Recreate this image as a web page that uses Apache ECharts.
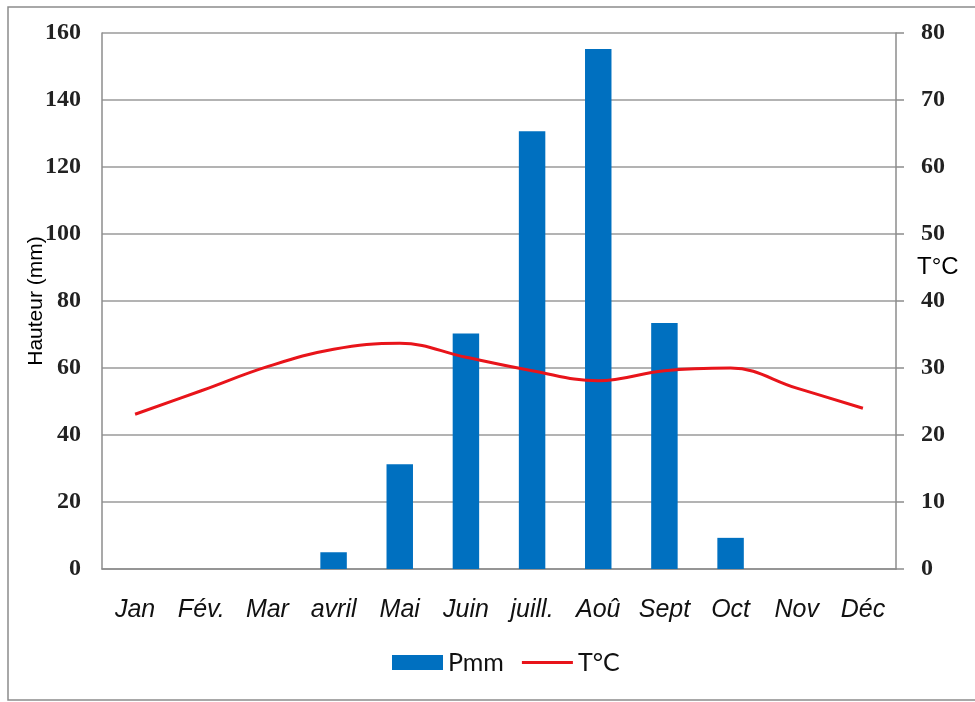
<!DOCTYPE html>
<html><head><meta charset="utf-8">
<script src="https://cdn.jsdelivr.net/npm/echarts@6/dist/echarts.min.js"></script>
<style>html,body{margin:0;padding:0;background:#fff}#c{width:975px;height:702px}</style>
</head><body><div id="c"></div>
<script>
const months = ['Jan','Fév.','Mar','avril','Mai','Juin','juill.','Aoû','Sept','Oct','Nov','Déc'];
const pmm = [0,0,0,5,31.3,70.3,130.7,155.2,73.4,9.3,0,0];
const tC = [23.1,26.6,30.2,32.8,33.7,31.6,29.6,28.1,29.6,30.0,27.0,24.0];
const leftTicks = {min:0,max:160,interval:20};
const rightTicks = {min:0,max:80,interval:10};

const chart = echarts.init(document.getElementById('c'));
chart.setOption({
  animation:false,
  graphic:[
    {type:'rect',shape:{x:8,y:7,width:975,height:693},style:{fill:'none',stroke:'#8c8c8c',lineWidth:1.5}},
    {type:'text',left:917,top:255,style:{text:'T°C',font:'24px "Liberation Sans"',fill:'#000'}}
  ],
  grid:{left:102,right:79,top:33,bottom:133},
  legend:{top:645,left:387,itemWidth:51,itemHeight:15,itemGap:18,
    textStyle:{fontFamily:'Lato',fontSize:25,color:'#111'},
    data:[{name:'Pmm',icon:'rect'},{name:'T°C',icon:'path://M0,0H50V3H0Z'}]},
  xAxis:{type:'category',data:months,
    axisLine:{lineStyle:{color:'#8c8c8c',width:1.5}},axisTick:{show:false},
    axisLabel:{interval:0,fontFamily:'Liberation Sans',fontStyle:'italic',fontSize:25,color:'#111',margin:29}},
  yAxis:[
    {type:'value',min:leftTicks.min,max:leftTicks.max,interval:leftTicks.interval,
     name:'Hauteur (mm)',nameLocation:'middle',nameGap:55,nameRotate:90,nameMoveOverlap:false,
     nameTextStyle:{fontFamily:'Liberation Sans',fontSize:21,color:'#000'},
     axisLine:{show:true,lineStyle:{color:'#8c8c8c',width:1.5}},axisTick:{show:false},
     splitLine:{lineStyle:{color:'#9a9a9a',width:1.5}},
     axisLabel:{fontFamily:'Liberation Serif',fontWeight:'bold',fontSize:24,color:'#222',margin:21}},
    {type:'value',min:rightTicks.min,max:rightTicks.max,interval:rightTicks.interval,
     axisLine:{show:true,lineStyle:{color:'#8c8c8c',width:1.5}},
     axisTick:{show:true,inside:false,length:8,lineStyle:{color:'#8c8c8c',width:1.5}},
     splitLine:{show:false},
     axisLabel:{fontFamily:'Liberation Serif',fontWeight:'bold',fontSize:24,color:'#222',margin:25}}
  ],
  series:[
    {name:'Pmm',type:'bar',data:pmm,barWidth:'40%',itemStyle:{color:'#0070c0'}},
    {name:'T°C',type:'line',yAxisIndex:1,data:tC,smooth:0.4,symbol:'none',
     lineStyle:{color:'#e8141a',width:3},itemStyle:{color:'#e8141a'}}
  ]
});
</script></body></html>
